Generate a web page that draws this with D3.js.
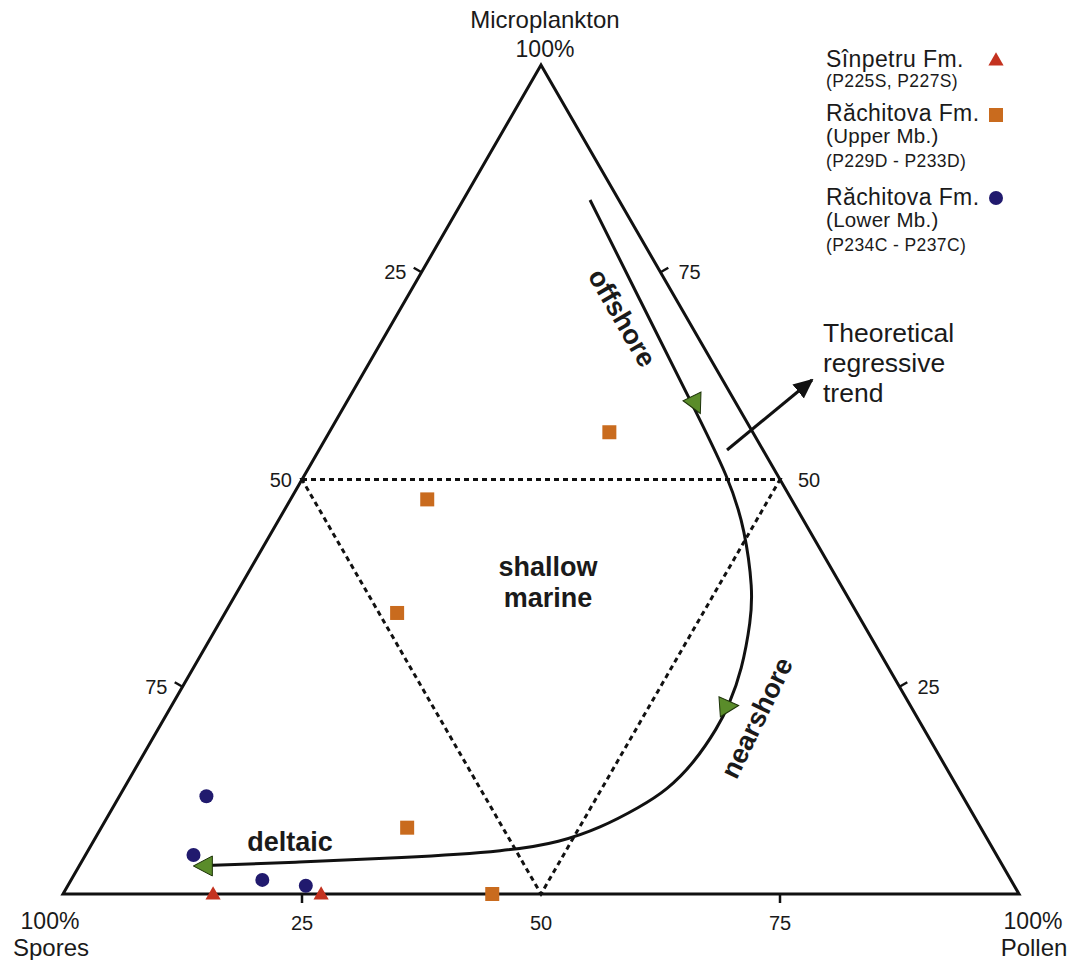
<!DOCTYPE html>
<html><head><meta charset="utf-8">
<script src="https://cdn.jsdelivr.net/npm/d3@7"></script>
<style>
body{margin:0;background:#fff}
text{font-family:"Liberation Sans",Arial,Helvetica,sans-serif;fill:#1a1a1a}
</style>
</head><body>
<svg id="chart" width="1072" height="960"></svg>
<script>
// ---- data: each sample as [spores %, microplankton %, pollen %] ----
const sinpetru = [[84.3, 0, 15.7], [73.0, 0, 27.0]];
const rachitovaUpper = [[15.0, 55.7, 29.3], [38.1, 47.6, 14.3], [48.1, 33.9, 18.0], [60.0, 8.0, 32.0], [55.1, 0, 44.9]];
const rachitovaLower = [[79.1, 11.8, 9.1], [84.0, 4.7, 11.3], [78.3, 1.7, 20.0], [74.1, 1.0, 24.9]];

// theoretical regressive trend (microplankton %, pollen %)
const trendMicro  = [83.72, 71.65, 59.59, 49.94, 43.91, 36.67, 33.05, 27.02, 22.80, 20.14, 15.80, 12.55, 10.49, 7.96, 6.27, 5.19, 4.34, 3.86, 3.38];
const trendPollen = [13.27, 24.53, 35.79, 44.80, 49.38, 53.82, 55.43, 57.51, 58.26, 58.44, 58.10, 56.91, 55.11, 52.19, 48.85, 44.17, 33.08, 22.86, 12.22];
// direction arrows on the trend (microplankton %, pollen %, heading deg)
const arrowMicro = [59.27, 22.64, 3.38];
const arrowPollen = [36.48, 58.10, 13.20];
const arrowHeading = [64, -4, 180];

const tickValues = [25, 50, 75];
const tickMarked = [25, 75];
const legendTitles = ["Sînpetru Fm.", "Răchitova Fm.", "Răchitova Fm."];
const legendSub = [[], ["(Upper Mb.)"], ["(Lower Mb.)"]];
const legendCodes = ["(P225S, P227S)", "(P229D - P233D)", "(P234C - P237C)"];

// ---- layout ----
const svg = d3.select("#chart");
const yS = d3.scaleLinear().domain([0, 100]).range([894, 65]);   // microplankton
const xS = d3.scaleLinear().domain([0, 100]).range([63, 1019]);  // pollen + micro/2
const proj = (m, p) => [xS(p + m / 2), yS(m)];
const projS = d => proj(d[1], d[2]);

const colRed = "#c4321f", colOrange = "#c96b1e", colNavy = "#211a6e", colGreen = "#5a8c2a";

// outer triangle
const corners = [[0, 100, 0], [100, 0, 0], [0, 0, 100]].map(projS);
svg.append("path").attr("d", d3.line()(corners) + "Z")
  .attr("fill", "none").attr("stroke", "#111").attr("stroke-width", 3).attr("stroke-linejoin", "miter");

// inner dashed triangle (shallow marine field)
const inner = [[50, 50, 0], [0, 50, 50], [50, 0, 50]].map(projS);
svg.append("path").attr("d", d3.line()(inner) + "Z")
  .attr("fill", "none").attr("stroke", "#111").attr("stroke-width", 3).attr("stroke-dasharray", "5,4");

// ticks
const tk = 9;
const nL = [-0.866, -0.5], nR = [0.866, -0.5];
tickMarked.forEach(v => {
  const b = proj(0, v);
  svg.append("line").attr("x1", b[0]).attr("y1", b[1]).attr("x2", b[0]).attr("y2", b[1] + tk)
    .attr("stroke", "#111").attr("stroke-width", 2.5);
  const l = projS([v, 100 - v, 0]);
  svg.append("line").attr("x1", l[0]).attr("y1", l[1]).attr("x2", l[0] + nL[0] * tk).attr("y2", l[1] + nL[1] * tk)
    .attr("stroke", "#111").attr("stroke-width", 2.5);
  const r = proj(v, 100 - v);
  svg.append("line").attr("x1", r[0]).attr("y1", r[1]).attr("x2", r[0] + nR[0] * tk).attr("y2", r[1] + nR[1] * tk)
    .attr("stroke", "#111").attr("stroke-width", 2.5);
});
tickValues.forEach(v => {
  const b = proj(0, v);
  svg.append("text").attr("x", b[0]).attr("y", 930).attr("text-anchor", "middle")
    .attr("font-size", 20).text(v);
  const l = projS([v, 100 - v, 0]);
  svg.append("text").attr("x", l[0] - (v === 50 ? 10 : 15)).attr("y", l[1] + 7).attr("text-anchor", "end")
    .attr("font-size", 20).text(v);
  const r = proj(v, 100 - v);
  svg.append("text").attr("x", r[0] + 18).attr("y", r[1] + 7).attr("text-anchor", "start")
    .attr("font-size", 20).text(v);
});

// apex labels
const apexTop = projS([0, 100, 0]);
svg.append("text").attr("x", apexTop[0] + 4).attr("y", 28).attr("text-anchor", "middle").attr("font-size", 24).text("Microplankton");
svg.append("text").attr("x", apexTop[0] + 4).attr("y", 57).attr("text-anchor", "middle").attr("font-size", 23).text("100%");
svg.append("text").attr("x", 50).attr("y", 929).attr("text-anchor", "middle").attr("font-size", 23).text("100%");
svg.append("text").attr("x", 51).attr("y", 956).attr("text-anchor", "middle").attr("font-size", 24).text("Spores");
svg.append("text").attr("x", 1033).attr("y", 929).attr("text-anchor", "middle").attr("font-size", 23).text("100%");
svg.append("text").attr("x", 1034).attr("y", 956).attr("text-anchor", "middle").attr("font-size", 24).text("Pollen");

// trend curve
const trendPts = trendMicro.map((m, i) => proj(m, trendPollen[i]));
svg.append("path").attr("d", d3.line().curve(d3.curveBasis)(trendPts))
  .attr("fill", "none").attr("stroke", "#111").attr("stroke-width", 3);

// direction arrowheads
arrowMicro.forEach((m, i) => {
  const c = proj(m, arrowPollen[i]);
  svg.append("path").attr("d", "M12,0 L-7,-10 L-7,10 Z")
    .attr("transform", `translate(${c[0]},${c[1]}) rotate(${arrowHeading[i]})`)
    .attr("fill", colGreen).attr("stroke", "#1d3309").attr("stroke-width", 1);
});

// "Theoretical regressive trend" arrow
const defs = svg.append("defs");
defs.append("marker").attr("id", "ah").attr("viewBox", "0 0 20 20").attr("refX", 18).attr("refY", 10)
  .attr("markerWidth", 20).attr("markerHeight", 20).attr("markerUnits", "userSpaceOnUse").attr("orient", "auto")
  .append("path").attr("d", "M0,1 L20,10 L0,19 Z").attr("fill", "#111");
const ta = proj(53.56, 42.68), tb = proj(62.0, 47.35);
svg.append("line").attr("x1", ta[0]).attr("y1", ta[1]).attr("x2", tb[0]).attr("y2", tb[1])
  .attr("stroke", "#111").attr("stroke-width", 3).attr("marker-end", "url(#ah)");
["Theoretical", "regressive", "trend"].forEach((t, i) => {
  svg.append("text").attr("x", 823).attr("y", 342 + i * 30).attr("font-size", 26.5).text(t);
});

// region labels
const bold = (x, y, t, rot) => svg.append("text")
  .attr("transform", `translate(${x},${y}) rotate(${rot})`)
  .attr("text-anchor", "middle").attr("font-size", 27).attr("font-weight", "bold").text(t);
bold(548, 576, "shallow", 0);
bold(548, 607, "marine", 0);
bold(290, 851, "deltaic", 0);
svg.append("text").attr("transform", "translate(622,318) rotate(60)").attr("text-anchor", "middle")
  .attr("dominant-baseline", "central").attr("font-size", 27).attr("font-weight", "bold").text("offshore");
svg.append("text").attr("transform", "translate(757,718) rotate(-64)").attr("text-anchor", "middle")
  .attr("dominant-baseline", "central").attr("font-size", 27).attr("font-weight", "bold").text("nearshore");

// data points
svg.selectAll(".sq").data(rachitovaUpper).join("rect")
  .attr("x", d => projS(d)[0] - 7).attr("y", d => projS(d)[1] - 7).attr("width", 14).attr("height", 14)
  .attr("fill", colOrange);
svg.selectAll(".ci").data(rachitovaLower).join("circle")
  .attr("cx", d => projS(d)[0]).attr("cy", d => projS(d)[1]).attr("r", 7)
  .attr("fill", colNavy);
const tri = d3.symbol().type(d3.symbolTriangle).size(100);
svg.selectAll(".tr").data(sinpetru).join("path")
  .attr("d", tri).attr("transform", d => `translate(${projS(d)[0]},${projS(d)[1] + 1})`)
  .attr("fill", colRed);

// legend
const lx = 826, mx = 996;
const titleY = [67, 121, 205];
legendTitles.forEach((t, i) => {
  svg.append("text").attr("x", lx).attr("y", titleY[i]).attr("font-size", 23).attr("letter-spacing", 0.4).text(t);
  legendSub[i].forEach(s => svg.append("text").attr("x", lx).attr("y", titleY[i] + 22).attr("font-size", 20.5).attr("letter-spacing", 0.3).text(s));
  const cy = legendSub[i].length ? titleY[i] + 46 : titleY[i] + 20;
  svg.append("text").attr("x", lx).attr("y", cy).attr("font-size", 17.5).attr("letter-spacing", 0.4).text(legendCodes[i]);
});
svg.append("path").attr("d", tri).attr("transform", `translate(${mx},61)`).attr("fill", colRed);
svg.append("rect").attr("x", mx - 7).attr("y", 108).attr("width", 14).attr("height", 14).attr("fill", colOrange);
svg.append("circle").attr("cx", mx).attr("cy", 198).attr("r", 7).attr("fill", colNavy);
</script>
</body></html>
